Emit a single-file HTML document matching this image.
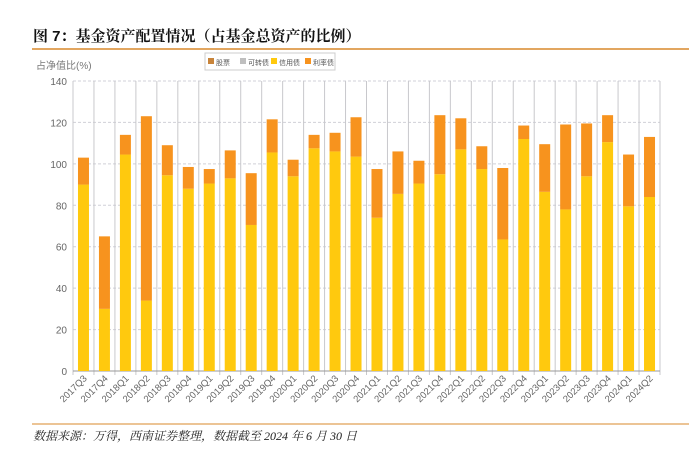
<!DOCTYPE html>
<html><head><meta charset="utf-8"><style>
body{margin:0;width:689px;height:448px;background:#fff;overflow:hidden;font-family:"Liberation Sans","Noto Sans CJK SC",sans-serif}
</style></head><body>
<svg width="689" height="448" xmlns="http://www.w3.org/2000/svg">
<text x="33" y="41" font-size="15" font-weight="bold" fill="#111" font-family="Liberation Sans, Noto Serif CJK SC, serif">图 7：基金资产配置情况（占基金总资产的比例）</text>
<line x1="32" y1="49" x2="689" y2="49" stroke="#d9892b" stroke-width="1.5"/>
<text x="36" y="69" font-size="10" fill="#777">占净值比(%)</text>
<g>
<rect x="205" y="53" width="130" height="17" fill="#fff" stroke="#ccc"/>
<rect x="208" y="58" width="6" height="6" fill="#c8843a"/><text x="216" y="65" font-size="7" fill="#555">股票</text>
<rect x="240" y="58" width="6" height="6" fill="#bfbfbf"/><text x="248" y="65" font-size="7" fill="#555">可转债</text>
<rect x="271" y="58" width="6" height="6" fill="#ffc90e"/><text x="279" y="65" font-size="7" fill="#555">信用债</text>
<rect x="305" y="58" width="6" height="6" fill="#f7931e"/><text x="313" y="65" font-size="7" fill="#555">利率债</text>
</g>
<g id="plot"></g>
<line x1="32" y1="424" x2="689" y2="424" stroke="#d9892b" stroke-width="1"/>
<text x="33" y="440" font-size="12" font-style="italic" fill="#222" font-family="Liberation Serif, Noto Serif CJK SC, serif">数据来源：万得，西南证券整理，数据截至 2024 年 6 月 30 日</text>
</svg>
<script>
const categories=["2017Q3","2017Q4","2018Q1","2018Q2","2018Q3","2018Q4","2019Q1","2019Q2","2019Q3","2019Q4","2020Q1","2020Q2","2020Q3","2020Q4","2021Q1","2021Q2","2021Q3","2021Q4","2022Q1","2022Q2","2022Q3","2022Q4","2023Q1","2023Q2","2023Q3","2023Q4","2024Q1","2024Q2"];
const creditBond=[90,30,104.5,34,94.5,88,90.5,93,70.5,105.5,94,107.5,106,103.5,74,85.5,90.5,95,107,97.5,63.5,112,86.5,78,94,110.5,79.5,84];
const rateBond=[13,35,9.5,89,14.5,10.5,7,13.5,25,16,8,6.5,9,19,23.5,20.5,11,28.5,15,11,34.5,6.5,23,41,25.5,13,25,29];
const yTicks=[0,20,40,60,80,100,120,140];
const NS="http://www.w3.org/2000/svg";
const g=document.getElementById('plot');
const X0=73,X1=660,Y0=371,Y1=81,YMAX=140;
const bw=(X1-X0)/categories.length;
const y=v=>Y0-(v/YMAX)*(Y0-Y1);
function mk(t,a){const e=document.createElementNS(NS,t);for(const k in a)e.setAttribute(k,a[k]);g.appendChild(e);return e;}
yTicks.forEach(t=>{
 if(t>0){const l=mk('line',{x1:X0,x2:X1,y1:y(t),y2:y(t),stroke:'#d0d0d8','stroke-dasharray':'3,2'});
 
 }
 const tx=mk('text',{x:X0-6,y:y(t)+4,'font-size':10,fill:'#666','text-anchor':'end'});tx.textContent=t;
 
 
});
for(let i=0;i<=categories.length;i++){const xx=X0+i*bw;const l=mk('line',{x1:xx,x2:xx,y1:Y1,y2:Y0+4,stroke:'#c8c8cc'});
 
 }
const ax=mk('line',{x1:X0,x2:X1,y1:Y0,y2:Y0,stroke:'#999'});


categories.forEach((c,i)=>{
 const cx=X0+(i+0.5)*bw,w=11;
 const r1=mk('rect',{x:cx-w/2,y:y(creditBond[i]),width:w,height:Y0-y(creditBond[i]),fill:'#ffc90e'});
 
 
 const tot=creditBond[i]+rateBond[i];
 const r2=mk('rect',{x:cx-w/2,y:y(tot),width:w,height:y(creditBond[i])-y(tot),fill:'#f7931e'});
 
 
 const tx=mk('text',{x:cx+4,y:Y0+8,'font-size':9.5,fill:'#666','text-anchor':'end',transform:`rotate(-45 ${cx+4} ${Y0+8})`});
 tx.textContent=c;
 
 
});
</script>
</body></html>
